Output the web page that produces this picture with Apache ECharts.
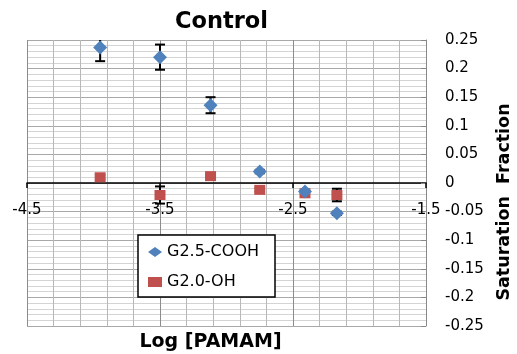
<!DOCTYPE html>
<html>
<head>
<meta charset="utf-8">
<script src="https://cdn.jsdelivr.net/npm/echarts@6/dist/echarts.min.js"></script>
<style>html,body{margin:0;padding:0;background:#fff}#c{width:517px;height:354px}</style>
</head>
<body>
<div id="c"></div>
<script>
// Data
const logPAMAM = [-3.95, -3.5, -3.12, -2.75, -2.41, -2.17];
const cooh = [0.237, 0.220, 0.136, 0.020, -0.015, -0.053];
const coohErr = [0.024, 0.022, 0.014, 0.003, 0.003, 0.003];
const oh = [0.010, -0.021, 0.012, -0.012, -0.018, -0.021];
const ohErr = [0.004, 0.015, 0.003, 0.003, 0.006, 0.011];
const xTicks = {min: -4.5, max: -1.5, step: 1};
const yTicks = {min: -0.25, max: 0.25, step: 0.05};

const FONT = 'DejaVu Sans';
const pts = (ys) => logPAMAM.map((x, i) => [x, ys[i]]);
const errPts = (ys, es) => logPAMAM.map((x, i) => [x, ys[i], es[i]]);

function renderErr(params, api) {
  const x = api.value(0), y = api.value(1), e = api.value(2);
  const hiV = Math.min(y + e, yTicks.max), loV = Math.max(y - e, yTicks.min);
  const p1 = api.coord([x, hiV]), p2 = api.coord([x, loV]);
  const st = {stroke: '#000', lineWidth: 2};
  const ch = [{type: 'line', shape: {x1: p1[0], y1: p1[1], x2: p2[0], y2: p2[1]}, style: st}];
  const w = 5;
  if (y + e <= yTicks.max) ch.push({type: 'line', shape: {x1: p1[0] - w, y1: p1[1], x2: p1[0] + w, y2: p1[1]}, style: st});
  if (y - e >= yTicks.min) ch.push({type: 'line', shape: {x1: p2[0] - w, y1: p2[1], x2: p2[0] + w, y2: p2[1]}, style: st});
  return {type: 'group', children: ch};
}

const chart = echarts.init(document.getElementById('c'), null, {renderer: 'canvas'});
const GRID = {left: 27, right: 91, top: 40, bottom: 28};
// the x axis sits at y = 0, i.e. halfway up the plot
const zeroOffset = -((354 - GRID.top - GRID.bottom) * (0 - yTicks.min) / (yTicks.max - yTicks.min));
chart.setOption({
  animation: false,
  backgroundColor: '#fff',
  title: {
    text: 'Control', left: 175, top: 11, padding: 0,
    textStyle: {fontFamily: FONT, fontWeight: 'bold', fontSize: 22.5, color: '#000'}
  },
  legend: {
    orient: 'vertical', left: 138, top: 235,
    data: ['G2.5-COOH', 'G2.0-OH'],
    backgroundColor: '#fff', borderColor: '#000', borderWidth: 1.5, borderRadius: 0,
    padding: [8, 16, 6, 10], itemGap: 12, itemWidth: 14, itemHeight: 10,
    textStyle: {fontFamily: FONT, fontSize: 16, color: '#000', lineHeight: 18}
  },
  grid: Object.assign({containLabel: false, outerBoundsMode: 'none'}, GRID),
  xAxis: {
    type: 'value', min: xTicks.min, max: xTicks.max, interval: xTicks.step,
    offset: zeroOffset,
    name: 'Log [PAMAM]', nameLocation: 'middle', nameGap: 150,
    nameTextStyle: {fontFamily: FONT, fontWeight: 'bold', fontSize: 19, color: '#000', padding: [0, 32, 0, 0]},
    axisLine: {onZero: false, lineStyle: {color: '#000', width: 1.5}},
    axisTick: {show: true, length: 5, lineStyle: {color: '#000', width: 1.5}},
    axisLabel: {fontFamily: FONT, fontSize: 15, color: '#000', margin: 20, showMinLabel: true, showMaxLabel: true},
    splitLine: {show: true, lineStyle: {color: '#8c8c8c', width: 1}},
    minorTick: {show: false, splitNumber: 5},
    minorSplitLine: {show: true, lineStyle: {color: '#b8b8b8', width: 1}}
  },
  yAxis: {
    type: 'value', position: 'right', min: yTicks.min, max: yTicks.max, interval: yTicks.step,
    name: 'Saturation  Fraction', nameLocation: 'middle', nameRotate: 90, nameGap: 69,
    nameTextStyle: {fontFamily: FONT, fontWeight: 'bold', fontSize: 17.5, color: '#000', padding: [0, 38, 0, 0]},
    axisLine: {show: true, onZero: false, lineStyle: {color: '#888', width: 1}},
    axisTick: {show: true, inside: true, length: 5, lineStyle: {color: '#888'}},
    axisLabel: {fontFamily: FONT, fontSize: 15, color: '#000', margin: 19, align: 'left'},
    splitLine: {show: true, lineStyle: {color: '#a8a8a8', width: 1}},
    minorTick: {show: false, splitNumber: 5},
    minorSplitLine: {show: true, lineStyle: {color: '#d4d4d4', width: 1}}
  },
  series: [
    {type: 'custom', name: 'errCOOH', data: errPts(cooh, coohErr), renderItem: renderErr, z: 2, silent: true},
    {type: 'custom', name: 'errOH', data: errPts(oh, ohErr), renderItem: renderErr, z: 2, silent: true},
    {type: 'scatter', name: 'G2.5-COOH', data: pts(cooh), symbol: 'diamond', symbolSize: 14,
      itemStyle: {color: '#4F81BD', opacity: 1}, z: 6},
    {type: 'scatter', name: 'G2.0-OH', data: pts(oh), symbol: 'rect', symbolSize: [11, 10],
      itemStyle: {color: '#C0504D', opacity: 1}, z: 5}
  ]
});
</script>
</body>
</html>
